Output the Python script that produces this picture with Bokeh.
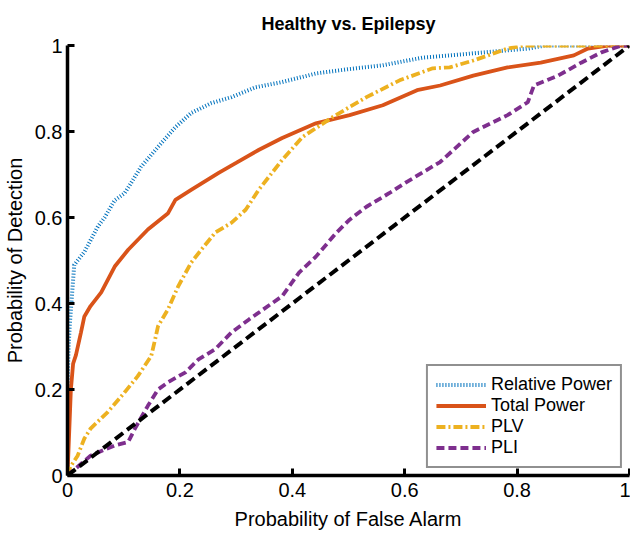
from bokeh.plotting import figure
from bokeh.models import Range1d, FixedTicker, Legend, LegendItem
from bokeh.embed import file_html
from bokeh.resources import INLINE

# Relative Power ROC
rel_x = [0, 0.0, 0.002, 0.004, 0.008, 0.012, 0.03, 0.054, 0.066, 0.084, 0.102, 0.131, 0.161,
         0.192, 0.22, 0.256, 0.292, 0.335, 0.382, 0.442, 0.5, 0.561, 0.633, 0.68, 0.75,
         0.82, 0.85, 1.0]
rel_y = [0, 0.2, 0.3, 0.35, 0.42, 0.49, 0.52, 0.579, 0.6, 0.64, 0.657, 0.718, 0.764,
         0.81, 0.843, 0.866, 0.88, 0.903, 0.915, 0.935, 0.945, 0.954, 0.972, 0.977, 0.985,
         0.993, 1.0, 1.0]

# Total Power ROC
tot_x = [0, 0.003, 0.006, 0.01, 0.015, 0.024, 0.03, 0.041, 0.06, 0.084, 0.108, 0.143, 0.179,
         0.192, 0.22, 0.269, 0.3, 0.34, 0.382, 0.442, 0.502, 0.561, 0.622, 0.663, 0.722,
         0.783, 0.842, 0.901, 0.926, 0.962, 1.0]
tot_y = [0, 0.1, 0.2, 0.26, 0.28, 0.333, 0.37, 0.394, 0.426, 0.486, 0.525, 0.572, 0.61,
         0.641, 0.664, 0.704, 0.727, 0.757, 0.785, 0.819, 0.838, 0.861, 0.896, 0.907, 0.93,
         0.949, 0.96, 0.977, 0.993, 1.0, 1.0]

# PLV ROC
plv_x = [0, 0.005, 0.018, 0.03, 0.041, 0.072, 0.102, 0.125, 0.149, 0.156, 0.161, 0.179,
         0.197, 0.22, 0.238, 0.263, 0.292, 0.317, 0.34, 0.382, 0.418, 0.471, 0.532, 0.591,
         0.65, 0.68, 0.722, 0.783, 0.812, 1.0]
plv_y = [0, 0.02, 0.046, 0.086, 0.109, 0.148, 0.194, 0.231, 0.278, 0.317, 0.347, 0.387,
         0.44, 0.495, 0.525, 0.565, 0.588, 0.618, 0.664, 0.734, 0.787, 0.833, 0.88, 0.919,
         0.947, 0.949, 0.965, 0.993, 1.0, 1.0]

# PLI ROC
pli_x = [0, 0.041, 0.084, 0.108, 0.12, 0.143, 0.161, 0.179, 0.21, 0.233, 0.263, 0.292, 0.323,
         0.382, 0.412, 0.442, 0.478, 0.502, 0.532, 0.573, 0.604, 0.663, 0.722, 0.783, 0.819,
         0.83, 0.873, 0.914, 0.95, 0.986, 1.0]
pli_y = [0, 0.046, 0.07, 0.078, 0.109, 0.162, 0.2, 0.217, 0.24, 0.27, 0.294, 0.333, 0.363,
         0.417, 0.472, 0.509, 0.564, 0.595, 0.625, 0.657, 0.683, 0.729, 0.799, 0.838, 0.868,
         0.907, 0.93, 0.96, 0.984, 1.0, 1.0]

# Chance line
chance_x = [0, 1]
chance_y = [0, 1]

ticks = [0, 0.2, 0.4, 0.6, 0.8, 1]
tick_labels = ["0", "0.2", "0.4", "0.6", "0.8", "1"]

FONT = "Liberation Sans"

p = figure(width=630, height=536, output_backend="svg", toolbar_location=None,
           x_range=Range1d(0, 1), y_range=Range1d(0, 1),
           min_border_left=64, min_border_right=1, min_border_top=41, min_border_bottom=61,
           title="Healthy vs. Epilepsy")

p.title.align = "center"
p.title.text_font = FONT
p.title.text_font_size = "18px"
p.title.text_font_style = "bold"
p.title.text_color = "black"
p.title.standoff = 23

p.outline_line_color = None
p.grid.grid_line_color = None
p.background_fill_color = "white"
p.border_fill_color = "white"

for ax in (p.xaxis[0], p.yaxis[0]):
    ax.ticker = FixedTicker(ticks=ticks)
    ax.major_label_overrides = {t: l for t, l in zip(ticks, tick_labels)}
    ax.axis_line_width = 3.5
    ax.axis_line_color = "black"
    ax.major_tick_in = 7
    ax.major_tick_out = 0
    ax.major_tick_line_width = 3
    ax.major_tick_line_color = "black"
    ax.minor_tick_line_color = None
    ax.major_label_text_font = FONT
    ax.major_label_text_font_size = "20px"
    ax.major_label_text_color = "black"
    ax.axis_label_text_font = FONT
    ax.axis_label_text_font_size = "20px"
    ax.axis_label_text_font_style = "normal"
    ax.axis_label_text_color = "black"

p.xaxis.axis_label = "Probability of False Alarm"
p.yaxis.axis_label = "Probability of Detection"
p.xaxis.major_label_standoff = 7
p.yaxis.major_label_standoff = 5
p.xaxis.axis_label_standoff = 8
p.yaxis.axis_label_standoff = 6

r_rel = p.line(rel_x, rel_y, line_color="#0072BD", line_width=4, line_dash="1 2")
r_tot = p.line(tot_x, tot_y, line_color="#D95319", line_width=3.8)
r_plv = p.line(plv_x, plv_y, line_color="#EDB120", line_width=3.8, line_dash="9 3 2 3")
r_pli = p.line(pli_x, pli_y, line_color="#7E2F8E", line_width=3.8, line_dash="8 4")
p.line(chance_x, chance_y, line_color="black", line_width=4, line_dash="10 5")

legend = Legend(items=[
    LegendItem(label="Relative Power", renderers=[r_rel]),
    LegendItem(label="Total Power", renderers=[r_tot]),
    LegendItem(label="PLV", renderers=[r_plv]),
    LegendItem(label="PLI", renderers=[r_pli]),
], location="bottom_right")
legend.border_line_color = "#222222"
legend.border_line_width = 2.6
legend.background_fill_color = "white"
legend.background_fill_alpha = 1.0
legend.label_text_font = FONT
legend.label_text_font_size = "18px"
legend.label_text_color = "black"
legend.glyph_width = 50
legend.glyph_height = 21
legend.label_height = 21
legend.spacing = 0
legend.padding = 8
legend.margin = 7
legend.label_standoff = 5
p.add_layout(legend)

open("out.html", "w").write(file_html(p, INLINE))
